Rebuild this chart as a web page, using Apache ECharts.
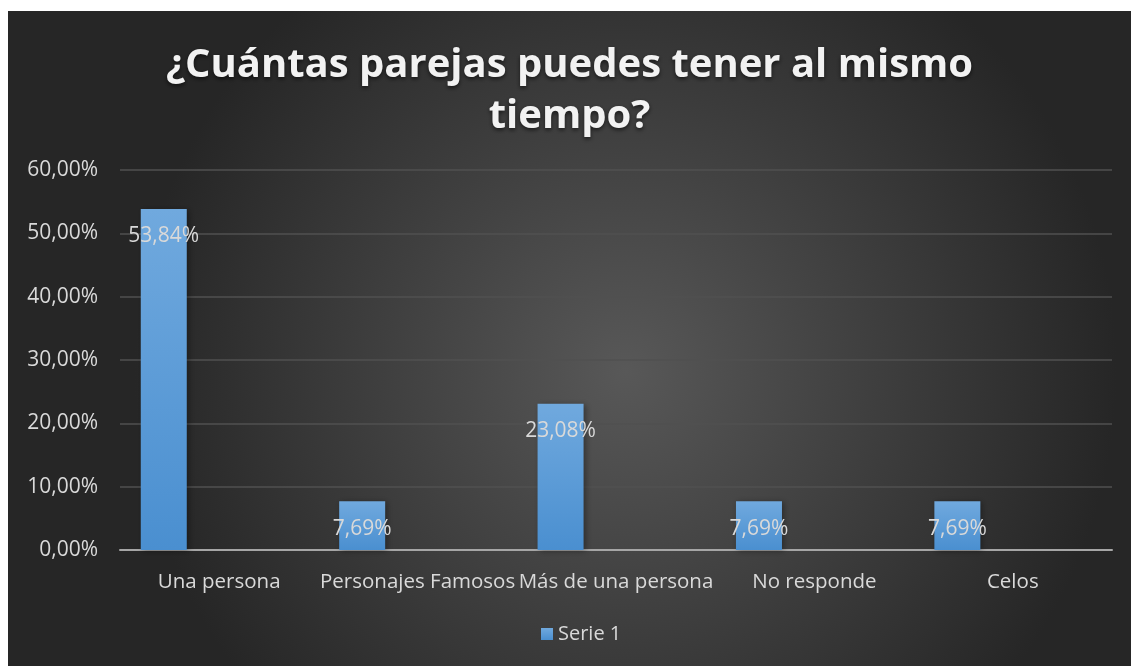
<!DOCTYPE html>
<html>
<head>
<meta charset="utf-8">
<script src="https://cdn.jsdelivr.net/npm/echarts@6/dist/echarts.min.js"></script>
<style>
html,body{margin:0;padding:0;background:#fff;width:1131px;height:666px;overflow:hidden;}
#c{position:absolute;left:8px;top:11px;width:1123px;height:655px;}
</style>
</head>
<body>
<div id="c"></div>
<script>
const categories = ['Una persona', 'Personajes Famosos', 'Más de una persona', 'No responde', 'Celos'];
const serie1 = [53.84, 7.69, 23.08, 7.69, 7.69];
const seriesName = 'Serie 1';
const titleText = '¿Cuántas parejas puedes tener al mismo\ntiempo?';
const yTicks = { min: 0, max: 60, interval: 10 };

const fmt = v => v.toFixed(2).replace('.', ',') + '%';
const FONT = '"Open Sans", sans-serif';
const chart = echarts.init(document.getElementById('c'));
chart.setOption({
  animation: false,
  backgroundColor: {
    type: 'radial', x: 0.55, y: 0.55, r: 0.75,
    colorStops: [{ offset: 0, color: '#585858' }, { offset: 1, color: '#262626' }]
  },
  title: {
    text: titleText,
    left: 'center',
    top: 24,
    textStyle: {
      color: '#f2f2f2', fontFamily: FONT, fontWeight: 'bold', fontSize: 40,
      lineHeight: 51, textShadowColor: 'rgba(0,0,0,0.6)', textShadowBlur: 4, textShadowOffsetY: 2
    }
  },
  legend: {
    data: [seriesName],
    left: 528, bottom: 17,
    itemWidth: 12, itemHeight: 12, icon: 'rect', itemGap: 6,
    textStyle: { color: '#d9d9d9', fontFamily: FONT, fontSize: 20 }
  },
  grid: { left: 112, right: 19, top: 159, bottom: 116, containLabel: false },
  xAxis: {
    type: 'category', data: categories,
    axisLine: { lineStyle: { color: '#a6a6a6', width: 2 } },
    axisTick: { show: false },
    axisLabel: { color: '#d9d9d9', fontFamily: FONT, fontSize: 20.5, margin: 22, interval: 0 }
  },
  yAxis: {
    type: 'value', min: yTicks.min, max: yTicks.max, interval: yTicks.interval,
    axisLine: { show: false }, axisTick: { show: false },
    splitLine: { lineStyle: { color: '#505050', width: 1.5 } },
    axisLabel: { color: '#d9d9d9', fontFamily: FONT, fontSize: 21, margin: 22, formatter: v => fmt(v) }
  },
  series: [
    {
      name: seriesName, type: 'bar', data: serie1, barWidth: 46, barGap: '141%',
      itemStyle: {
        color: { type: 'linear', x: 0, y: 0, x2: 0, y2: 1,
          colorStops: [{ offset: 0, color: '#70a9de' }, { offset: 1, color: '#4a8fd0' }] },
        shadowColor: 'rgba(0,0,0,0.35)', shadowBlur: 6, shadowOffsetX: 2, shadowOffsetY: 1
      },
      label: {
        show: true, position: 'insideTop', distance: 17,
        color: '#d9d9d9', fontFamily: FONT, fontSize: 21,
        formatter: p => fmt(p.value)
      }
    },
    { name: '_pad', type: 'bar', data: categories.map(() => null), barWidth: 46 }
  ]
});
</script>
</body>
</html>
